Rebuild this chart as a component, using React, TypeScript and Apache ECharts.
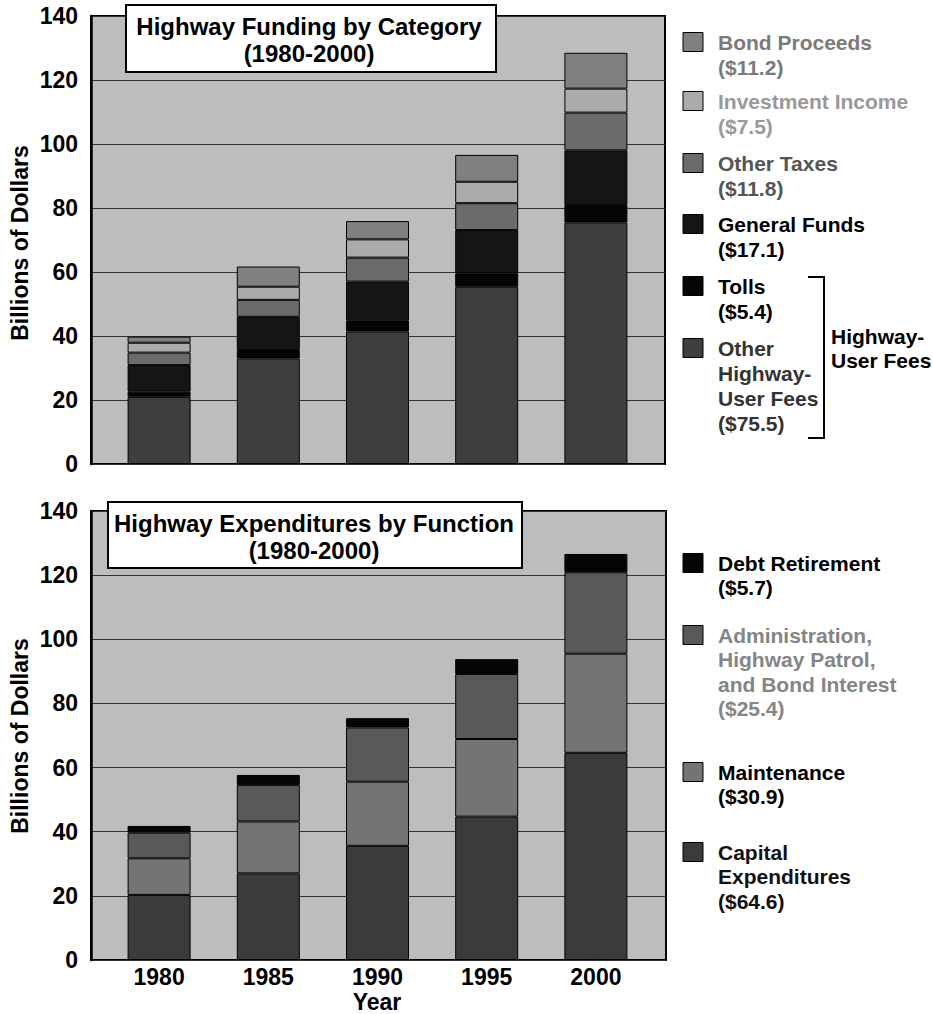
import React, { useEffect, useRef } from "react";
import * as echarts from "echarts";

// ---------- DATA ----------
const years = ["1980", "1985", "1990", "1995", "2000"];
const yTicks = [0, 20, 40, 60, 80, 100, 120, 140];

// Funding by category (billions of dollars), bottom of stack first
const otherUserFees = [21.0, 33.0, 41.4, 55.4, 75.5];
const tolls = [1.6, 2.6, 3.5, 4.2, 5.4];
const generalFunds = [8.3, 10.4, 12.1, 13.5, 17.1];
const otherTaxes = [3.9, 5.3, 7.5, 8.4, 11.8];
const investmentIncome = [3.1, 4.1, 5.7, 6.7, 7.5];
const bondProceeds = [1.9, 6.3, 5.7, 8.4, 11.2];

// Expenditures by function (billions of dollars), bottom of stack first
const capitalExpenditures = [20.3, 27.0, 35.6, 44.7, 64.6];
const maintenance = [11.4, 16.2, 20.0, 24.2, 30.9];
const administration = [8.0, 11.4, 16.9, 20.3, 25.4];
const debtRetirement = [2.1, 3.1, 2.9, 4.6, 5.7];

const fundingTitle = ["Highway Funding by Category", "(1980-2000)"];
const expendTitle = ["Highway Expenditures by Function", "(1980-2000)"];
const yTitle = "Billions of Dollars";
const xTitle = "Year";

// legend labels (top to bottom)
const fundingLegendLines = [
  ["Bond Proceeds", "($11.2)"],
  ["Investment Income", "($7.5)"],
  ["Other Taxes", "($11.8)"],
  ["General Funds", "($17.1)"],
  ["Tolls", "($5.4)"],
  ["Other", "Highway-", "User Fees", "($75.5)"],
];
const fundingBracketLabel = ["Highway-", "User Fees"];
const expendLegendLines = [
  ["Debt Retirement", "($5.7)"],
  ["Administration,", "Highway Patrol,", "and Bond Interest", "($25.4)"],
  ["Maintenance", "($30.9)"],
  ["Capital", "Expenditures", "($64.6)"],
];

// ---------- STYLE ----------
const FONT = '"Liberation Sans", Arial, Helvetica, sans-serif';
const BG = "#bdbdbd";
const fundingColors = {
  otherUserFees: "#3e3e3e",
  tolls: "#050505",
  generalFunds: "#151515",
  otherTaxes: "#6b6b6b",
  investmentIncome: "#ababab",
  bondProceeds: "#808080",
};
const expendColors = {
  capital: "#3b3b3b",
  maintenance: "#747474",
  admin: "#595959",
  debt: "#050505",
};

function makeOption() {
  const frameTop = { left: 91, top: 16, width: 574, height: 448 };
  const frameBot = { left: 91, top: 511, width: 575, height: 449 };
  const barsTop = { left: 104.5, top: 16, width: 546, height: 448 };
  const barsBot = { left: 104.5, top: 511, width: 546, height: 449 };

  const frameGrid = (g: any) => ({
    ...g,
    show: true,
    backgroundColor: BG,
    borderColor: "#000",
    borderWidth: 2,
  });

  const frameY = (gi: number) => ({
    gridIndex: gi,
    type: "value",
    min: 0,
    max: 140,
    interval: 20,
    axisLine: { show: true, lineStyle: { color: "#000", width: 2.5 } },
    axisTick: { show: false },
    axisLabel: {
      margin: 13,
      fontSize: 23,
      fontWeight: "bold",
      fontFamily: FONT,
      color: "#000",
      formatter: (v: number) => (yTicks.includes(v) ? String(v) : ""),
    },
    splitLine: { show: true, lineStyle: { color: "#333", width: 1 } },
  });
  const hiddenY = (gi: number) => ({
    gridIndex: gi,
    type: "value",
    min: 0,
    max: 140,
    show: false,
    splitLine: { show: false },
  });
  const hiddenValueX = (gi: number) => ({
    gridIndex: gi,
    type: "value",
    min: 0,
    max: 1,
    show: false,
    splitLine: { show: false },
  });
  const catX = (gi: number, showLabels: boolean) => ({
    gridIndex: gi,
    type: "category",
    data: years,
    axisLine: { show: false },
    axisTick: { show: false },
    splitLine: { show: false },
    axisLabel: {
      show: showLabels,
      margin: 5,
      fontSize: 23,
      fontWeight: "bold",
      fontFamily: FONT,
      color: "#000",
    },
  });

  const bar = (name: string, data: number[], color: string, xi: number, yi: number, stack: string) => ({
    name,
    type: "bar",
    data,
    stack,
    xAxisIndex: xi,
    yAxisIndex: yi,
    barWidth: 63,
    itemStyle: { color, borderColor: "#000", borderWidth: 1 },
    emphasis: { disabled: true },
  });

  const series = [
    bar("Other Highway-User Fees", otherUserFees, fundingColors.otherUserFees, 1, 1, "f"),
    bar("Tolls", tolls, fundingColors.tolls, 1, 1, "f"),
    bar("General Funds", generalFunds, fundingColors.generalFunds, 1, 1, "f"),
    bar("Other Taxes", otherTaxes, fundingColors.otherTaxes, 1, 1, "f"),
    bar("Investment Income", investmentIncome, fundingColors.investmentIncome, 1, 1, "f"),
    bar("Bond Proceeds", bondProceeds, fundingColors.bondProceeds, 1, 1, "f"),
    bar("Capital Expenditures", capitalExpenditures, expendColors.capital, 3, 3, "e"),
    bar("Maintenance", maintenance, expendColors.maintenance, 3, 3, "e"),
    bar("Administration, Highway Patrol, and Bond Interest", administration, expendColors.admin, 3, 3, "e"),
    bar("Debt Retirement", debtRetirement, expendColors.debt, 3, 3, "e"),
  ];

  const txt = (x: number, y: number, text: string, opts: any = {}) => ({
    type: "text",
    x,
    y,
    z: 100,
    rotation: opts.rotation || 0,
    style: {
      text,
      fontSize: opts.fontSize || 21,
      fontWeight: "bold",
      fontFamily: FONT,
      fill: opts.fill || "#000",
      align: opts.align || "left",
      verticalAlign: "middle",
    },
  });

  const graphics: any[] = [];

  // title boxes
  graphics.push({
    type: "rect",
    z: 99,
    shape: { x: 126, y: 5, width: 370, height: 67 },
    style: { fill: "#fff", stroke: "#000", lineWidth: 2 },
  });
  graphics.push(txt(309, 26, fundingTitle[0], { fontSize: 24, align: "center" }));
  graphics.push(txt(309, 53, fundingTitle[1], { fontSize: 24, align: "center" }));
  graphics.push({
    type: "rect",
    z: 99,
    shape: { x: 108, y: 502, width: 414, height: 66 },
    style: { fill: "#fff", stroke: "#000", lineWidth: 2 },
  });
  graphics.push(txt(314, 523, expendTitle[0], { fontSize: 24, align: "center" }));
  graphics.push(txt(314, 550, expendTitle[1], { fontSize: 24, align: "center" }));

  // axis titles
  graphics.push(txt(20, 243, yTitle, { fontSize: 23, align: "center", rotation: Math.PI / 2 }));
  graphics.push(txt(20, 736, yTitle, { fontSize: 23, align: "center", rotation: Math.PI / 2 }));
  graphics.push(txt(377, 1002, xTitle, { fontSize: 23, align: "center" }));

  // legends
  const fundLegendColors = [
    fundingColors.bondProceeds,
    fundingColors.investmentIncome,
    fundingColors.otherTaxes,
    fundingColors.generalFunds,
    fundingColors.tolls,
    fundingColors.otherUserFees,
  ];
  const fundTextColors = ["#7a7a7a", "#999999", "#555555", "#000", "#000", "#333333"];
  const fundY = [42, 101, 163, 224, 286, 348];
  fundingLegendLines.forEach((lines, i) => {
    graphics.push({
      type: "rect",
      z: 100,
      shape: { x: 683, y: fundY[i] - 9.5, width: 20, height: 19 },
      style: { fill: fundLegendColors[i], stroke: "#000", lineWidth: 1 },
    });
    lines.forEach((l, j) => graphics.push(txt(718, fundY[i] + j * 25.3, l, { fill: fundTextColors[i] })));
  });
  graphics.push({
    type: "polyline",
    z: 100,
    shape: { points: [[808, 277], [824, 277], [824, 438], [808, 438]] },
    style: { stroke: "#000", lineWidth: 2, fill: null },
  });
  graphics.push(txt(831, 336, fundingBracketLabel[0]));
  graphics.push(txt(831, 360, fundingBracketLabel[1]));

  const expLegendColors = [expendColors.debt, expendColors.admin, expendColors.maintenance, expendColors.capital];
  const expTextColors = ["#000", "#858585", "#000", "#111"];
  const expY = [563, 635, 772, 852];
  expendLegendLines.forEach((lines, i) => {
    graphics.push({
      type: "rect",
      z: 100,
      shape: { x: 683, y: expY[i] - 9.5, width: 20, height: 19 },
      style: { fill: expLegendColors[i], stroke: "#000", lineWidth: 1 },
    });
    lines.forEach((l, j) => graphics.push(txt(718, expY[i] + j * 24.5, l, { fill: expTextColors[i] })));
  });

  return {
    animation: false,
    backgroundColor: "#fff",
    grid: [frameGrid(frameTop), barsTop, frameGrid(frameBot), barsBot],
    xAxis: [hiddenValueX(0), catX(1, false), hiddenValueX(2), catX(3, true)],
    yAxis: [frameY(0), hiddenY(1), frameY(2), hiddenY(3)],
    series,
    graphic: graphics,
  };
}

export default function App() {
  const ref = useRef<HTMLDivElement>(null);
  useEffect(() => {
    document.body.style.margin = "0";
    if (!ref.current) return;
    const chart = echarts.init(ref.current, undefined, { renderer: "svg" });
    chart.setOption(makeOption() as any);
    return () => chart.dispose();
  }, []);
  return <div ref={ref} style={{ width: 933, height: 1014 }} />;
}
